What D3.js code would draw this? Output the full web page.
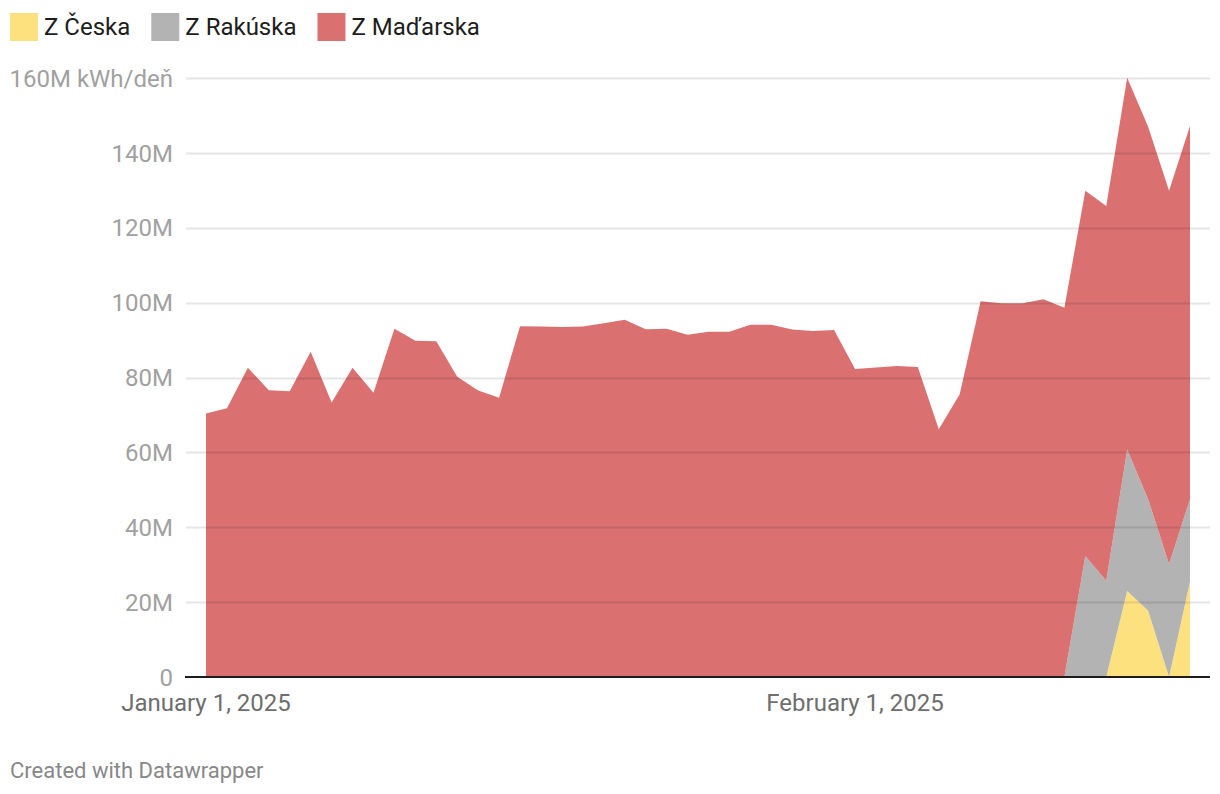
<!DOCTYPE html>
<html>
<head>
<meta charset="utf-8">
<script src="https://cdn.jsdelivr.net/npm/d3@7"></script>
<style>
  html, body { margin: 0; padding: 0; background: #fff; }
  svg { display: block; font-family: Roboto, "Noto Sans", sans-serif; }
</style>
</head>
<body>
<svg id="chart" width="1220" height="794"></svg>
<script>
// ---- data (million kWh per day), Jan 1 – Feb 17, 2025 ----
const startDate = "2025-01-01";
const seriesNames = ["Z Česka", "Z Rakúska", "Z Maďarska"];
const seriesColors = ["#fee17f", "#b3b3b3", "#db7070"];

const cesko = [
  0, 0, 0, 0, 0, 0, 0, 0, 0, 0,
  0, 0, 0, 0, 0, 0, 0, 0, 0, 0,
  0, 0, 0, 0, 0, 0, 0, 0, 0, 0,
  0, 0, 0, 0, 0, 0, 0, 0, 0, 0,
  0, 0, 0, 0, 23.0, 17.7, 0, 25.5
];
const rakusko = [
  0, 0, 0, 0, 0, 0, 0, 0, 0, 0,
  0, 0, 0, 0, 0, 0, 0, 0, 0, 0,
  0, 0, 0, 0, 0, 0, 0, 0, 0, 0,
  0, 0, 0, 0, 0, 0, 0, 0, 0, 0,
  0, 0, 32.3, 25.7, 37.8, 29.8, 30.2, 22.0
];
const madarsko = [
  70.4, 71.8, 82.6, 76.6, 76.3, 86.9, 73.3, 82.6, 75.9, 93.0,
  89.8, 89.7, 80.2, 76.5, 74.6, 93.7, 93.6, 93.5, 93.6, 94.5,
  95.4, 92.9, 93.0, 91.4, 92.2, 92.2, 94.1, 94.1, 92.8, 92.4,
  92.7, 82.3, 82.7, 83.1, 82.8, 66.2, 75.5, 100.4, 99.8, 99.8,
  100.9, 98.6, 97.6, 100.1, 99.3, 99.5, 99.7, 99.7
];
const yTicks = [0, 20, 40, 60, 80, 100, 120, 140, 160];
const xTickDates = ["2025-01-01", "2025-02-01"];
const xTickLabels = ["January 1, 2025", "February 1, 2025"];

// ---- build table ----
const parse = d3.utcParse("%Y-%m-%d");
const d0 = parse(startDate);
const rows = madarsko.map((v, i) => ({
  date: d3.utcDay.offset(d0, i),
  "Z Česka": cesko[i],
  "Z Rakúska": rakusko[i],
  "Z Maďarska": v
}));

const svg = d3.select("#chart");
const x = d3.scaleUtc()
  .domain(d3.extent(rows, d => d.date))
  .range([206, 1190]);
const y = d3.scaleLinear().domain([0, 160]).range([677, 78]);

const stack = d3.stack().keys(seriesNames);
const layers = stack(rows);

const area = d3.area()
  .x(d => x(d.data.date))
  .y0(d => y(d[0]))
  .y1(d => y(d[1]));

// areas
svg.append("g").selectAll("path")
  .data(layers)
  .join("path")
  .attr("d", area)
  .attr("fill", (d, i) => seriesColors[i]);

// gridlines (drawn on top, semi-transparent)
const grid = svg.append("g");
grid.selectAll("line")
  .data(yTicks.filter(t => t > 0))
  .join("line")
  .attr("x1", 186).attr("x2", 1210)
  .attr("y1", d => Math.round(y(d)) + 0.5)
  .attr("y2", d => Math.round(y(d)) + 0.5)
  .attr("stroke", "rgba(0,0,0,0.1)")
  .attr("stroke-width", 2);

// baseline
svg.append("line")
  .attr("x1", 185).attr("x2", 1210)
  .attr("y1", y(0)).attr("y2", y(0))
  .attr("stroke", "#1d1d1d")
  .attr("stroke-width", 2);

// y labels
svg.append("g").selectAll("text")
  .data(yTicks)
  .join("text")
  .attr("x", 173)
  .attr("y", d => y(d))
  .attr("dy", "0.36em")
  .attr("text-anchor", "end")
  .attr("fill", "#a1a1a1")
  .style("font-size", "24px")
  .text(d => d === 160 ? "160M kWh/deň" : (d === 0 ? "0" : d + "M"));

// x labels
svg.append("g").selectAll("text")
  .data(xTickDates)
  .join("text")
  .attr("x", d => x(parse(d)))
  .attr("y", 711)
  .attr("text-anchor", "middle")
  .attr("fill", "#6e6e6e")
  .style("font-size", "24px")
  .text((d, i) => xTickLabels[i]);

// legend
const legend = svg.append("g");
let lx = 10;
seriesNames.forEach((name, i) => {
  legend.append("rect")
    .attr("x", lx).attr("y", 13)
    .attr("width", 28).attr("height", 28)
    .attr("fill", seriesColors[i]);
  const t = legend.append("text")
    .attr("x", lx + 34).attr("y", 35)
    .attr("fill", "#1d1d1d")
    .style("font-size", "24px")
    .text(name);
  const w = t.node().getComputedTextLength();
  lx = lx + 34 + w + 21;
});

// footer
svg.append("text")
  .attr("x", 10).attr("y", 778)
  .attr("fill", "#888")
  .style("font-size", "22px")
  .text("Created with Datawrapper");
</script>
</body>
</html>
